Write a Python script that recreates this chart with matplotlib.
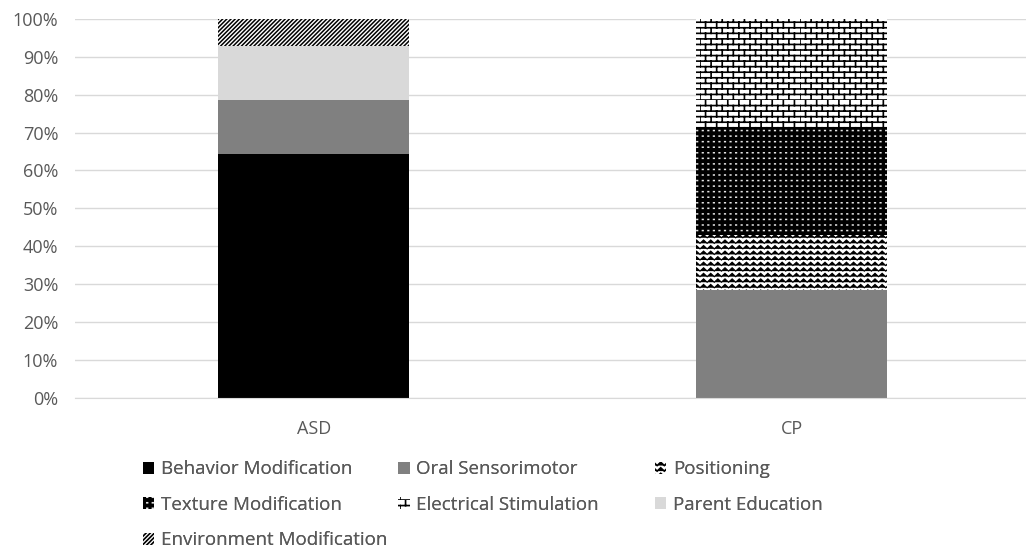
import numpy as np
import matplotlib
matplotlib.use("Agg")
import matplotlib.pyplot as plt
import matplotlib.hatch as mhatch
from matplotlib.path import Path
from matplotlib.ticker import PercentFormatter


groups = ["ASD", "CP"]
series = [
    "Behavior Modification",
    "Oral Sensorimotor",
    "Positioning",
    "Texture Modification",
    "Electrical Stimulation",
    "Parent Education",
    "Environment Modification",
]
asd_pct = [64.3, 14.3, 0, 0, 0, 14.3, 7.1]
cp_pct = [0, 28.6, 14.3, 28.6, 28.6, 0, 0]


# extra hatch shapes: 'z' zigzag rows, 'b' brick wall, 'd' tiny square dots
class ZigzagHatch(mhatch.HatchPatternBase):
    def __init__(self, hatch, density):
        self.rows = int(hatch.count("z") * density)
        self.waves = int(hatch.count("z") * density * 0.8)
        self.per_row = 2 * self.waves + 1
        self.num_vertices = self.rows * self.per_row

    def set_vertices_and_codes(self, vertices, codes):
        xs = np.linspace(0, 1, self.per_row)
        amp = 0.3 / self.rows
        for r in range(self.rows):
            y0 = (r + 0.5) / self.rows
            sl = slice(r * self.per_row, (r + 1) * self.per_row)
            vertices[sl, 0] = xs
            vertices[sl, 1] = y0 + amp * np.where(np.arange(self.per_row) % 2 == 0, -1, 1)
            codes[sl] = Path.LINETO
            codes[r * self.per_row] = Path.MOVETO


class BrickHatch(mhatch.HatchPatternBase):
    def __init__(self, hatch, density):
        n = hatch.count("b")
        self.rows = int(n * density)
        if self.rows % 2:
            self.rows += 1
        self.cols = int(n * density * 0.55)
        self.num_vertices = self.rows * 2 + self.rows * self.cols * 2

    def set_vertices_and_codes(self, vertices, codes):
        h = 1.0 / self.rows
        w = 1.0 / self.cols
        i = 0
        for r in range(self.rows):
            y = r * h
            vertices[i] = (0, y)
            vertices[i + 1] = (1, y)
            codes[i] = Path.MOVETO
            codes[i + 1] = Path.LINETO
            i += 2
        for r in range(self.rows):
            off = 0.0 if r % 2 == 0 else w / 2
            for c in range(self.cols):
                x = c * w + off
                vertices[i] = (x, r * h)
                vertices[i + 1] = (x, (r + 1) * h)
                codes[i] = Path.MOVETO
                codes[i + 1] = Path.LINETO
                i += 2


class DotHatch(mhatch.HatchPatternBase):
    def __init__(self, hatch, density):
        self.n = int(hatch.count("d") * density)
        self.num_vertices = self.n * self.n * 2

    def set_vertices_and_codes(self, vertices, codes):
        step = 1.0 / self.n
        seg = 0.12 * step
        i = 0
        for r in range(self.n):
            for c in range(self.n):
                x = (c + 0.5) * step
                y = (r + 0.5) * step
                vertices[i] = (x - seg / 2, y)
                vertices[i + 1] = (x + seg / 2, y)
                codes[i] = Path.MOVETO
                codes[i + 1] = Path.LINETO
                i += 2


mhatch._hatch_types.extend([ZigzagHatch, BrickHatch, DotHatch])

styles = {
    "Behavior Modification": dict(color="black", edgecolor="black", hatch=None, hlw=1.0),
    "Oral Sensorimotor": dict(color="#808080", edgecolor="#808080", hatch=None, hlw=1.0),
    "Positioning": dict(color="white", edgecolor="black", hatch="zzz", hlw=0.85),
    "Texture Modification": dict(color="black", edgecolor="#e6e6e6", hatch="ddd", hlw=1.1),
    "Electrical Stimulation": dict(color="white", edgecolor="black", hatch="bbb", hlw=1.2),
    "Parent Education": dict(color="#d9d9d9", edgecolor="#d9d9d9", hatch=None, hlw=1.0),
    "Environment Modification": dict(color="white", edgecolor="black", hatch="////////", hlw=1.1),
}

plt.rcParams["font.family"] = ["Open Sans", "DejaVu Sans"]
plt.rcParams["hatch.linewidth"] = 1.2
text_color = "#595959"
fs = 13.5

fig = plt.figure(figsize=(10.26, 5.52), dpi=100)
ax = fig.add_axes([0.073, 0.279, 0.927, 0.687])

x = np.arange(len(groups))
bottom = np.zeros(len(groups))
handles = {}
for i, name in enumerate(series):
    vals = np.array([asd_pct[i], cp_pct[i]])
    st = styles[name]
    bars = ax.bar(x, vals, width=0.4, bottom=bottom, color=st["color"],
                  edgecolor=st["edgecolor"], hatch=st["hatch"], linewidth=0,
                  label=name, zorder=2)
    for p in bars:
        if hasattr(p, "set_hatch_linewidth"):
            p.set_hatch_linewidth(st["hlw"])
    handles[name] = bars
    bottom += vals

ax.set_xlim(-0.5, 1.49)
ax.set_ylim(0, 100)
ax.set_yticks(np.arange(0, 101, 10))
ax.yaxis.set_major_formatter(PercentFormatter(decimals=0))
ax.set_xticks(x)
ax.set_xticklabels(groups)
ax.grid(axis="y", color="#d9d9d9", linewidth=1, zorder=0)
for s in ["top", "right", "left"]:
    ax.spines[s].set_visible(False)
ax.spines["bottom"].set_color("#d9d9d9")
ax.tick_params(axis="both", length=0, labelsize=13, colors=text_color)
ax.tick_params(axis="y", pad=12)
ax.tick_params(axis="x", pad=16)

# three legend columns at fixed positions
columns = [
    (0.139, ["Behavior Modification", "Texture Modification", "Environment Modification"]),
    (0.388, ["Oral Sensorimotor", "Electrical Stimulation"]),
    (0.638, ["Positioning", "Parent Education"]),
]
for xpos, names in columns:
    leg = fig.legend([handles[n] for n in names], names, loc="upper left",
                     bbox_to_anchor=(xpos, 0.166), frameon=False, fontsize=fs,
                     handlelength=0.62, handleheight=0.62, handletextpad=0.35,
                     labelspacing=0.93, borderaxespad=0, borderpad=0)
    for t in leg.get_texts():
        t.set_color(text_color)
    fig.add_artist(leg)

fig.savefig("out.png", dpi=100)
